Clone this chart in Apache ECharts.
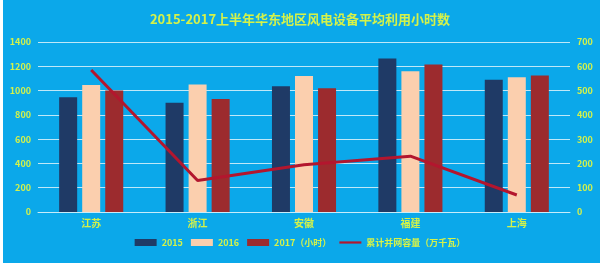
<!DOCTYPE html>
<html><head><meta charset="utf-8">
<script src="https://cdn.jsdelivr.net/npm/echarts@6/dist/echarts.min.js"></script>
<style>html,body{margin:0;padding:0;background:#fff}#c{width:600px;height:266px}</style>
</head><body><div id="c"></div>
<script>
const categories = ['江苏','浙江','安徽','福建','上海'];
const hours2015 = [945, 900, 1035, 1265, 1090];
const hours2016 = [1045, 1050, 1120, 1160, 1110];
const hours2017 = [1000, 930, 1020, 1215, 1125];
const capacity = [585, 130, 195, 230, 70];
const leftTicks = [0, 200, 400, 600, 800, 1000, 1200, 1400];
const rightTicks = [0, 100, 200, 300, 400, 500, 600, 700];

const labelColor = '#d4f24a';
const chart = echarts.init(document.getElementById('c'));
chart.setOption({
  backgroundColor: '#0ba8ea',
  animation: false,
  textStyle: { fontFamily: 'Noto Sans CJK SC' },
  title: {
    text: '2015-2017上半年华东地区风电设备平均利用小时数',
    left: 'center', top: 8,
    textStyle: { color: labelColor, fontSize: 13, fontWeight: 'bold', fontFamily: 'Noto Sans CJK SC' }
  },
  graphic: [
    { type: 'rect', shape: { x: 0, y: 263, width: 600, height: 3 }, style: { fill: '#ffffff' }, z: 100 },
    { type: 'rect', shape: { x: 0, y: 0, width: 3, height: 266 }, style: { fill: '#ffffff' }, z: 100 }
  ],
  legend: {
    bottom: 14, left: 'center',
    itemWidth: 22, itemHeight: 7, itemGap: 8,
    textStyle: { color: labelColor, fontSize: 9, fontWeight: 'bold' },
    data: [
      { name: '2015', icon: 'rect' },
      { name: '2016', icon: 'rect' },
      { name: '2017（小时）', icon: 'rect' },
      { name: '累计并网容量（万千瓦）', icon: 'path://M0 0 H30 V3 H0 Z' }
    ]
  },
  grid: { left: 38, right: 30, top: 42, bottom: 54 },
  xAxis: {
    type: 'category', data: categories,
    axisLine: { lineStyle: { color: '#c8ecfa', width: 1 } },
    axisTick: { show: false },
    axisLabel: { color: labelColor, fontSize: 10, margin: 6, fontWeight: 'bold' }
  },
  yAxis: [
    { type: 'value', min: 0, max: 1400, interval: 200,
      axisLine: { show: false }, axisTick: { show: false },
      axisLabel: { color: labelColor, fontSize: 9, margin: 7, fontWeight: 'bold',
        formatter: v => leftTicks.includes(v) ? String(v) : '' },
      splitLine: { lineStyle: { color: '#bfe8f8', width: 1 } } },
    { type: 'value', min: 0, max: 700, interval: 100,
      axisLine: { show: false }, axisTick: { show: false },
      axisLabel: { color: labelColor, fontSize: 9, margin: 7, fontWeight: 'bold',
        formatter: v => rightTicks.includes(v) ? String(v) : '' },
      splitLine: { show: false } }
  ],
  series: [
    { name: '2015', type: 'bar', data: hours2015, barWidth: 18, barGap: '28%',
      itemStyle: { color: '#1f3a66' } },
    { name: '2016', type: 'bar', data: hours2016, barWidth: 18, barGap: '28%',
      itemStyle: { color: '#fbcfae' } },
    { name: '2017（小时）', type: 'bar', data: hours2017, barWidth: 18, barGap: '28%',
      itemStyle: { color: '#9c2b2e' } },
    { name: '累计并网容量（万千瓦）', type: 'line', yAxisIndex: 1, data: capacity,
      symbol: 'none', lineStyle: { color: '#b3162e', width: 3 },
      itemStyle: { color: '#b3162e' }, z: 5 }
  ]
});
</script></body></html>
